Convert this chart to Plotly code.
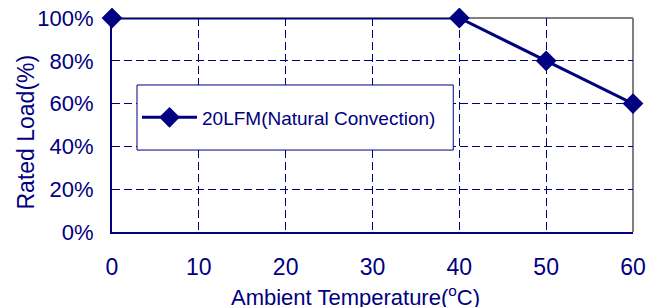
import plotly.graph_objects as go

temps = [0, 40, 50, 60]
load = [100, 100, 80, 60]
series_name = "20LFM(Natural Convection)"
x_ticks = [0, 10, 20, 30, 40, 50, 60]
y_ticks = [0, 20, 40, 60, 80, 100]
y_tick_text = [f"{v}%" for v in y_ticks]
x_title = "Ambient Temperature(<sup>o</sup>C)"
y_title = "Rated Load(%)"

navy = "#000080"
font = "Liberation Sans, Arial, sans-serif"

fig = go.Figure()
fig.add_trace(go.Scatter(
    x=temps, y=load, mode="lines+markers", name=series_name,
    line=dict(color=navy, width=3),
    marker=dict(symbol="diamond", size=16, color=navy),
    cliponaxis=False,
))

fig.update_layout(
    width=658, height=307, autosize=False,
    margin=dict(l=104, r=33, t=10, b=83),
    plot_bgcolor="white", paper_bgcolor="white",
    font=dict(family=font, color=navy, size=19),
    showlegend=True,
    legend=dict(x=0.048, y=0.535, xanchor="left", yanchor="middle",
                xref="paper", yref="paper",
                borderwidth=0, bgcolor="rgba(0,0,0,0)",
                font=dict(size=19, color=navy, family=font),
                itemwidth=55),
    xaxis=dict(range=[0, 60], tickvals=x_ticks, showgrid=True,
               gridcolor=navy, griddash="8px,4px", gridwidth=1,
               showline=True, linecolor=navy, linewidth=2,
               ticks="outside", ticklen=13, tickcolor="rgba(0,0,0,0)",
               tickfont=dict(size=23), ticklabeloverflow="allow",
               zeroline=False, automargin=False),
    yaxis=dict(range=[0, 100], tickvals=y_ticks, ticktext=y_tick_text,
               showgrid=True, gridcolor=navy, griddash="8px,4px", gridwidth=1,
               showline=True, linecolor=navy, linewidth=2,
               ticks="outside", ticklen=12, tickcolor="rgba(0,0,0,0)",
               tickfont=dict(size=22), ticklabeloverflow="allow",
               zeroline=False, automargin=False),
)

# gray top/right frame
fig.add_shape(type="line", xref="paper", yref="paper", x0=0, x1=1, y0=1, y1=1,
              line=dict(color="#808080", width=2), layer="below")
fig.add_shape(type="line", xref="paper", yref="paper", x0=1, x1=1, y0=0, y1=1,
              line=dict(color="#808080", width=2), layer="below")
# legend box
fig.add_shape(type="rect", xref="paper", yref="paper",
              x0=0.048, x1=0.655, y0=0.383, y1=0.687,
              line=dict(color=navy, width=1), fillcolor="white", layer="above")

fig.add_annotation(text=x_title, xref="paper", yref="paper", x=0.468, y=-0.30,
                   xanchor="center", yanchor="middle", showarrow=False,
                   font=dict(size=22, color=navy))
fig.add_annotation(text=y_title, xref="paper", yref="paper", x=-0.165, y=0.465,
                   xanchor="center", yanchor="middle", showarrow=False, textangle=-90,
                   font=dict(size=23, color=navy))

fig.write_html("out.html")
